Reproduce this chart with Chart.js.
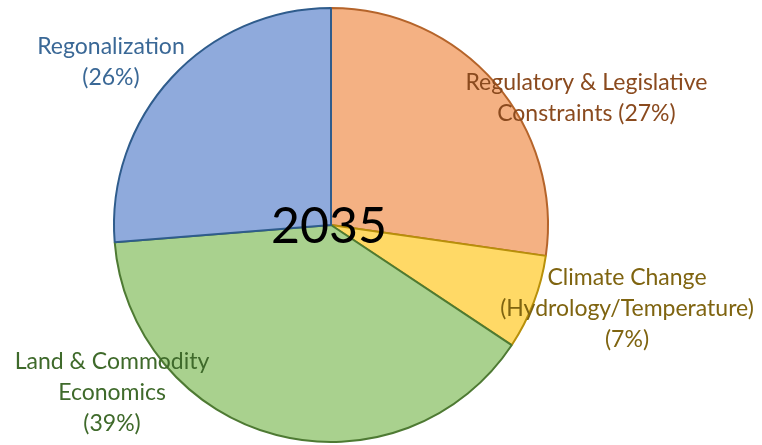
<!DOCTYPE html>
<html>
<head>
<meta charset="utf-8">
<script src="https://cdn.jsdelivr.net/npm/chart.js@4/dist/chart.umd.min.js"></script>
<style>
html,body{margin:0;padding:0;background:#fff;}
#wrap{width:762px;height:445px;}
</style>
</head>
<body>
<div id="wrap"><canvas id="c"></canvas></div>
<script>
const categories = ["Regulatory & Legislative Constraints", "Climate Change (Hydrology/Temperature)", "Land & Commodity Economics", "Regonalization"];
const values = [27, 7, 39, 26];
const centerTitle = "2035";
const labelLines = [
  ["Regulatory & Legislative", "Constraints (27%)"],
  ["Climate Change", "(Hydrology/Temperature)", "(7%)"],
  ["Land & Commodity", "Economics", "(39%)"],
  ["Regonalization", "(26%)"]
];
const fills = ["#F4B183", "#FFD966", "#A9D18E", "#8FAADC"];
const borders = ["#B5642A", "#B8900A", "#4E7A33", "#2F5C8C"];
const labelColors = ["#8A4A1E", "#7F6410", "#3F6A2B", "#3A6896"];
// label anchor offsets relative to pie centre (in radius units)
const labelPos = [
  {dx: 1.177, dy: -0.658},
  {dx: 1.364, dy: 0.244},
  {dx: -1.009, dy: 0.631},
  {dx: -1.014, dy: -0.820}
];

const labelPlugin = {
  id: 'labels',
  afterDraw(chart) {
    const ctx = chart.ctx;
    const arc = chart.getDatasetMeta(0).data[0];
    const cx = arc.x, cy = arc.y, r = arc.outerRadius;
    ctx.save();
    ctx.textAlign = 'center';
    ctx.textBaseline = 'middle';
    ctx.font = '23px Lato, "Open Sans", sans-serif';
    labelLines.forEach((lines, i) => {
      ctx.fillStyle = labelColors[i];
      const x = cx + labelPos[i].dx * r;
      const y = cy + labelPos[i].dy * r;
      lines.forEach((t, j) => ctx.fillText(t, x, y + j * 31));
    });
    ctx.fillStyle = '#000';
    ctx.font = '50px Lato, "Open Sans", sans-serif';
    ctx.fillText(centerTitle, cx - 2, cy + 2);
    ctx.restore();
  }
};

new Chart(document.getElementById('c'), {
  type: 'pie',
  data: {
    labels: categories,
    datasets: [{
      data: values,
      backgroundColor: fills,
      borderColor: borders,
      borderWidth: 2,
      borderAlign: 'center'
    }]
  },
  options: {
    responsive: true,
    maintainAspectRatio: false,
    animation: false,
    layout: {padding: {top: 7, bottom: 2, left: 113, right: 213}},
    plugins: {legend: {display: false}, tooltip: {enabled: false}}
  },
  plugins: [labelPlugin]
});
</script>
</body>
</html>
